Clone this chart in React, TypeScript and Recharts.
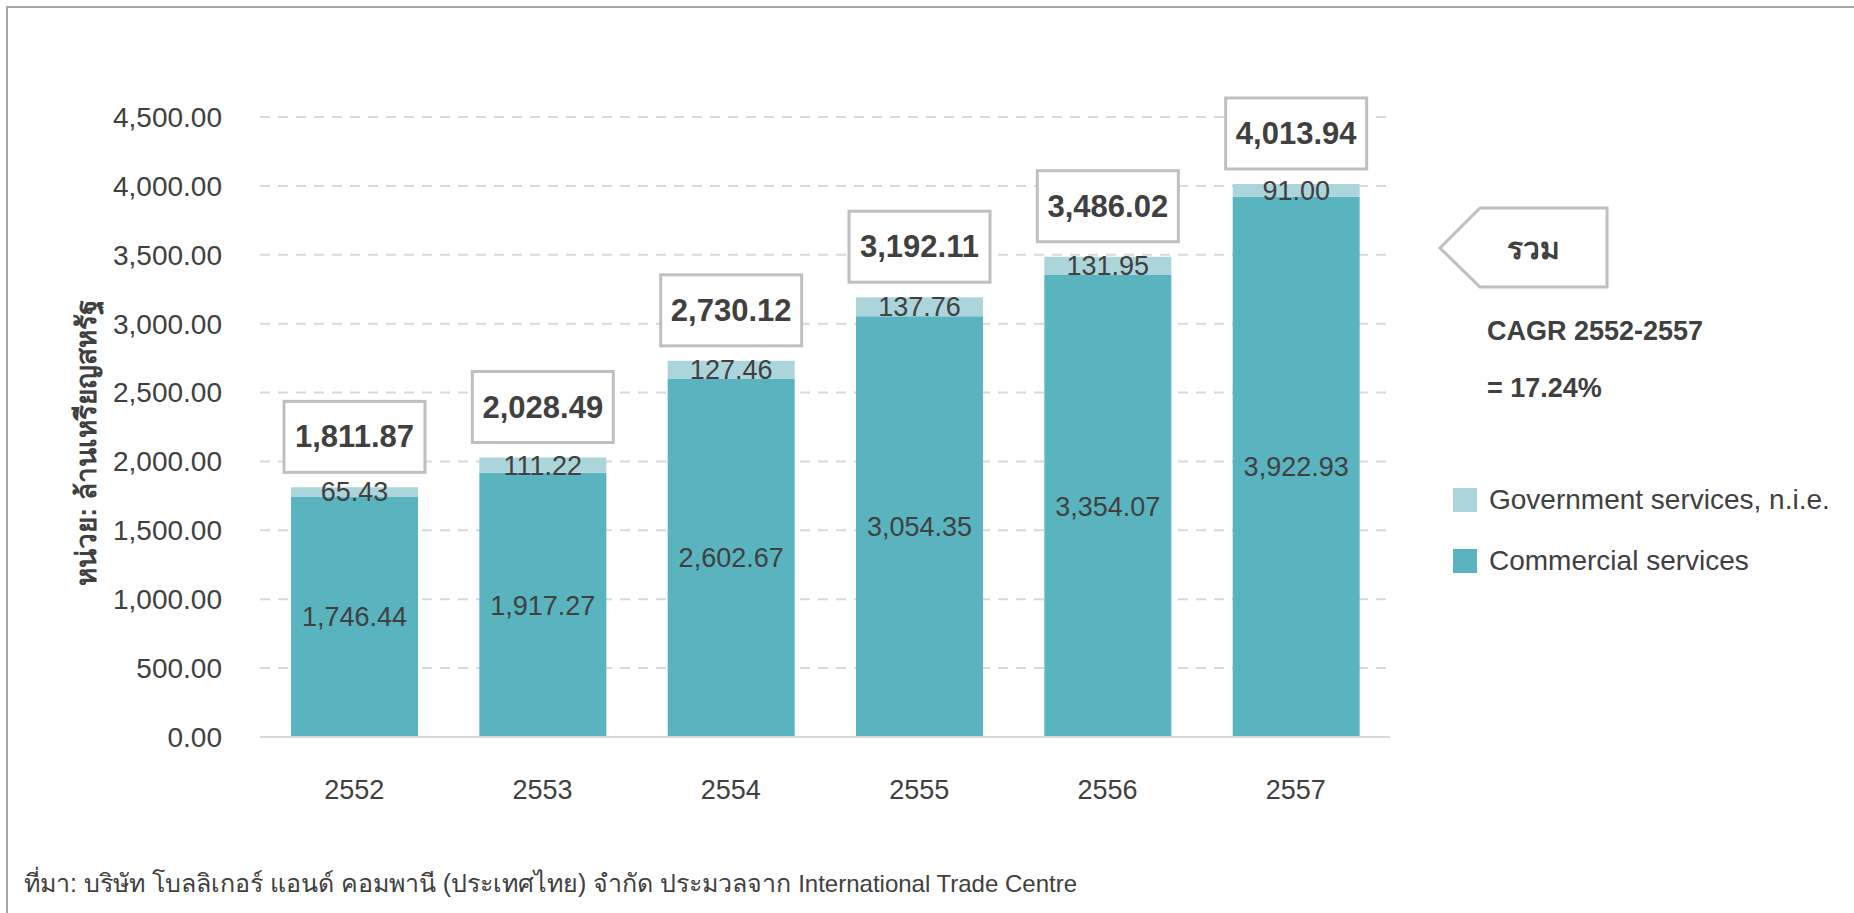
import React from 'react';
import { BarChart, Bar, XAxis, YAxis, CartesianGrid, LabelList, Legend } from 'recharts';

const years = ['2552', '2553', '2554', '2555', '2556', '2557'];
const commercial = [1746.44, 1917.27, 2602.67, 3054.35, 3354.07, 3922.93];
const government = [65.43, 111.22, 127.46, 137.76, 131.95, 91.0];
const totals = [1811.87, 2028.49, 2730.12, 3192.11, 3486.02, 4013.94];
const yTicks = [0, 500, 1000, 1500, 2000, 2500, 3000, 3500, 4000, 4500];

const TEXT = '#404040';
const FONT = '"Liberation Sans", Arial, "Noto Sans", sans-serif';
const COMMERCIAL_COLOR = '#5ab4bf';
const GOV_COLOR = '#acd5db';

const data = years.map((year, i) => ({
  year,
  commercial: commercial[i],
  government: government[i],
  total: totals[i]
}));

const fmt = (v: number) =>
  Number(v).toLocaleString('en-US', { minimumFractionDigits: 2, maximumFractionDigits: 2 });

// boxed total above each stacked bar
const TotalBox = (props: any) => {
  const { x, y, width, value } = props;
  const bx = x - 7;
  const bw = width + 14;
  const bh = 71;
  const by = y - 15 - bh;
  return (
    <g>
      <rect x={bx} y={by} width={bw} height={bh} fill="#fff" stroke="#bfbfbf" strokeWidth={3} />
      <text
        x={bx + bw / 2}
        y={by + bh / 2}
        textAnchor="middle"
        dominantBaseline="central"
        fontSize={31}
        fontWeight="bold"
        fill={TEXT}
        fontFamily={FONT}
      >
        {fmt(value)}
      </text>
    </g>
  );
};

const LegendBox = () => {
  const items = [
    { name: 'Government services, n.i.e.', color: GOV_COLOR },
    { name: 'Commercial services', color: COMMERCIAL_COLOR }
  ];
  return (
    <div style={{ fontFamily: FONT }}>
      {items.map((it) => (
        <div key={it.name} style={{ display: 'flex', alignItems: 'center', height: 61 }}>
          <div style={{ width: 24, height: 24, background: it.color, marginRight: 12 }} />
          <span style={{ fontSize: 28, color: TEXT, whiteSpace: 'nowrap' }}>{it.name}</span>
        </div>
      ))}
    </div>
  );
};

const App: React.FC = () => {
  return (
    <div
      style={{
        position: 'absolute',
        left: 0,
        top: 0,
        width: 1854,
        height: 913,
        overflow: 'hidden',
        background: '#fff',
        fontFamily: FONT
      }}
    >
      <div
        style={{
          position: 'absolute',
          left: 6,
          top: 6,
          width: 1900,
          height: 1000,
          border: '2px solid #a6a6a6'
        }}
      />
      <div style={{ position: 'absolute', left: 0, top: 0 }}>
        <BarChart
          width={1854}
          height={913}
          data={data}
          margin={{ top: 117, right: 464, left: 160, bottom: 116 }}
          barSize={127}
        >
          <CartesianGrid vertical={false} stroke="#d9d9d9" strokeWidth={2} strokeDasharray="10 8" />
          <XAxis
            dataKey="year"
            height={60}
            tickLine={false}
            tickSize={0}
            tickMargin={43}
            axisLine={{ stroke: '#d9d9d9', strokeWidth: 2 }}
            tick={{ fill: TEXT, fontSize: 27, fontFamily: FONT }}
          />
          <YAxis
            width={100}
            domain={[0, 4500]}
            ticks={yTicks}
            tickFormatter={fmt}
            axisLine={false}
            tickLine={false}
            tickSize={0}
            tickMargin={38}
            tick={{ fill: TEXT, fontSize: 28, fontFamily: FONT }}
          />
          <Legend
            layout="vertical"
            verticalAlign="middle"
            align="center"
            content={<LegendBox />}
            wrapperStyle={{ position: 'absolute', left: 1453, top: 469, width: 400 }}
          />
          <Bar dataKey="commercial" stackId="a" fill={COMMERCIAL_COLOR} isAnimationActive={false}>
            <LabelList
              dataKey="commercial"
              position="center"
              formatter={(v: any) => fmt(v)}
              style={{ fill: TEXT, fontSize: 27, fontFamily: FONT }}
            />
          </Bar>
          <Bar dataKey="government" stackId="a" fill={GOV_COLOR} isAnimationActive={false}>
            <LabelList
              dataKey="government"
              position="center"
              formatter={(v: any) => fmt(v)}
              style={{ fill: TEXT, fontSize: 27, fontFamily: FONT }}
            />
            <LabelList dataKey="total" content={<TotalBox />} />
          </Bar>
        </BarChart>
      </div>
      <svg
        width={1854}
        height={913}
        style={{ position: 'absolute', left: 0, top: 0, pointerEvents: 'none' }}
      >
        <text
          transform="translate(86,443) rotate(-90)"
          textAnchor="middle"
          dominantBaseline="central"
          fontSize={28}
          fontWeight="bold"
          fill={TEXT}
          fontFamily={FONT}
        >
          หน่วย: ล้านเหรียญสหรัฐ
        </text>
        <polygon
          points="1440,248 1480,208 1607,208 1607,287 1480,287"
          fill="#fff"
          stroke="#bfbfbf"
          strokeWidth={3}
        />
        <text x={1533} y={248} textAnchor="middle" dominantBaseline="central" fontSize={30} fontWeight="bold" fill={TEXT} fontFamily={FONT}>
          รวม
        </text>
        <text x={1487} y={331} dominantBaseline="central" fontSize={27} fontWeight="bold" fill={TEXT} fontFamily={FONT}>
          CAGR 2552-2557
        </text>
        <text x={1487} y={388} dominantBaseline="central" fontSize={27} fontWeight="bold" fill={TEXT} fontFamily={FONT}>
          = 17.24%
        </text>
        <text x={24} y={883} dominantBaseline="central" fontSize={24} fill={TEXT} fontFamily={FONT}>
          <tspan fontSize={25}>ที่มา: บริษัท โบลลิเกอร์ แอนด์ คอมพานี (ประเทศไทย) จำกัด ประมวลจาก </tspan>
          <tspan>International Trade Centre</tspan>
        </text>
      </svg>
    </div>
  );
};

export default App;
